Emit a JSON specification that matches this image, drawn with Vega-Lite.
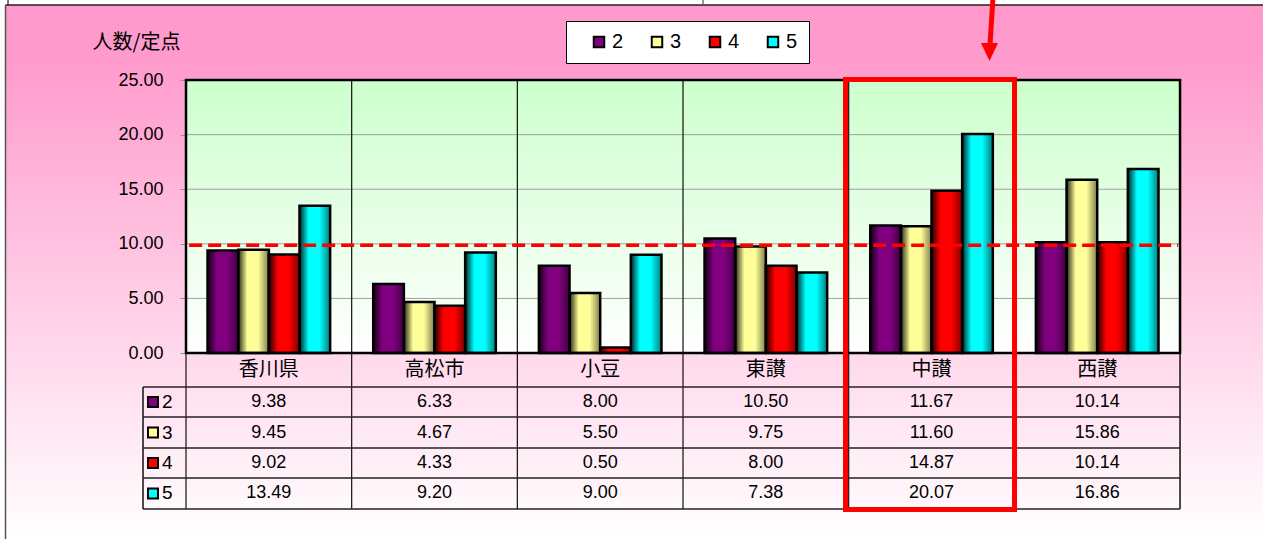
{
 "$schema": "https://vega.github.io/schema/vega-lite/v6.json",
 "width": 1263,
 "height": 539,
 "autosize": {"type": "none"},
 "padding": 0,
 "background": "white",
 "config": {
  "view": {"stroke": null, "fill": {"gradient": "linear", "x1": 0, "y1": 0, "x2": 0, "y2": 1, "stops": [{"offset": 0, "color": "#FF99CC"}, {"offset": 0.1, "color": "#FF9ACC"}, {"offset": 1, "color": "#FFFFFF"}]}},
  "font": "Liberation Sans"
 },
 "data": {"values": [
  {"region": "香川県", "series": "2", "value": 9.38},
  {"region": "香川県", "series": "3", "value": 9.45},
  {"region": "香川県", "series": "4", "value": 9.02},
  {"region": "香川県", "series": "5", "value": 13.49},
  {"region": "高松市", "series": "2", "value": 6.33},
  {"region": "高松市", "series": "3", "value": 4.67},
  {"region": "高松市", "series": "4", "value": 4.33},
  {"region": "高松市", "series": "5", "value": 9.20},
  {"region": "小豆", "series": "2", "value": 8.00},
  {"region": "小豆", "series": "3", "value": 5.50},
  {"region": "小豆", "series": "4", "value": 0.50},
  {"region": "小豆", "series": "5", "value": 9.00},
  {"region": "東讃", "series": "2", "value": 10.50},
  {"region": "東讃", "series": "3", "value": 9.75},
  {"region": "東讃", "series": "4", "value": 8.00},
  {"region": "東讃", "series": "5", "value": 7.38},
  {"region": "中讃", "series": "2", "value": 11.67},
  {"region": "中讃", "series": "3", "value": 11.60},
  {"region": "中讃", "series": "4", "value": 14.87},
  {"region": "中讃", "series": "5", "value": 20.07},
  {"region": "西讃", "series": "2", "value": 10.14},
  {"region": "西讃", "series": "3", "value": 15.86},
  {"region": "西讃", "series": "4", "value": 10.14},
  {"region": "西讃", "series": "5", "value": 16.86}
 ]},
 "layer": [
  {"data": {"values": [{}]}, "mark": {"type": "rect", "fill": "white"},
   "encoding": {"x": {"datum": "香川県", "type": "nominal", "bandPosition": -2.5, "axis": null}, "x2": {"datum": "西讃", "bandPosition": 2.5},
    "y": {"datum": 31.87, "type": "quantitative"}, "y2": {"datum": 34}}},
  {"data": {"values": [{}]}, "mark": {"type": "rect", "fill": "white"},
   "encoding": {"x": {"datum": "香川県", "type": "nominal", "bandPosition": -2.5, "axis": null}, "x2": {"datum": "香川県", "bandPosition": -1.648},
    "y": {"datum": 34, "type": "quantitative"}, "y2": {"datum": -19}}},
  {"data": {"values": [{}]}, "mark": {"type": "rule", "color": "#222222", "strokeWidth": 1.5},
   "encoding": {"x": {"datum": "香川県", "type": "nominal", "bandPosition": -1.648, "axis": null}, "x2": {"datum": "西讃", "bandPosition": 2.5},
    "y": {"datum": 31.87, "type": "quantitative"}}},
  {"data": {"values": [{}]}, "mark": {"type": "rule", "color": "#555555", "strokeWidth": 1.5},
   "encoding": {"x": {"datum": "香川県", "type": "nominal", "bandPosition": -1.648, "axis": null},
    "y": {"datum": 31.87, "type": "quantitative"}, "y2": {"datum": -19}}},
  {"data": {"values": [{}]}, "mark": {"type": "rule", "color": "#222222", "strokeWidth": 1.2},
   "encoding": {"x": {"datum": "香川県", "type": "nominal", "bandPosition": -1.6276, "axis": null},
    "y": {"datum": 31.87, "type": "quantitative"}, "y2": {"datum": 34}}},
  {"data": {"values": [{}]}, "mark": {"type": "rule", "color": "#555555", "strokeWidth": 1.2},
   "encoding": {"x": {"datum": "東讃", "type": "nominal", "bandPosition": -0.0126, "axis": null},
    "y": {"datum": 31.87, "type": "quantitative"}, "y2": {"datum": 34}}},
  {"data": {"values": [{}]},
   "mark": {"type": "rect", "fill": {"gradient": "linear", "x1": 0, "y1": 0, "x2": 0, "y2": 1, "stops": [{"offset": 0, "color": "#CCFFCC"}, {"offset": 1, "color": "#FFFFFF"}]}},
   "encoding": {"x": {"datum": "香川県", "type": "nominal", "bandPosition": -0.1757, "axis": null}, "x2": {"datum": "西讃", "bandPosition": 1.1757},
    "y": {"datum": 25, "type": "quantitative"}, "y2": {"datum": 0}}},
  {"data": {"values": [{}]}, "mark": {"type": "rule", "color": "#A0A0A0", "strokeWidth": 1},
   "encoding": {"x": {"datum": "香川県", "type": "nominal", "bandPosition": -0.1757, "axis": null}, "x2": {"datum": "西讃", "bandPosition": 1.1757}, "y": {"datum": 5, "type": "quantitative"}}},
  {"data": {"values": [{}]}, "mark": {"type": "rule", "color": "#A0A0A0", "strokeWidth": 1},
   "encoding": {"x": {"datum": "香川県", "type": "nominal", "bandPosition": -0.1757, "axis": null}, "x2": {"datum": "西讃", "bandPosition": 1.1757}, "y": {"datum": 10, "type": "quantitative"}}},
  {"data": {"values": [{}]}, "mark": {"type": "rule", "color": "#A0A0A0", "strokeWidth": 1},
   "encoding": {"x": {"datum": "香川県", "type": "nominal", "bandPosition": -0.1757, "axis": null}, "x2": {"datum": "西讃", "bandPosition": 1.1757}, "y": {"datum": 15, "type": "quantitative"}}},
  {"data": {"values": [{}]}, "mark": {"type": "rule", "color": "#A0A0A0", "strokeWidth": 1},
   "encoding": {"x": {"datum": "香川県", "type": "nominal", "bandPosition": -0.1757, "axis": null}, "x2": {"datum": "西讃", "bandPosition": 1.1757}, "y": {"datum": 20, "type": "quantitative"}}},
  {"transform": [{"filter": "datum.series === '2'"}], "mark": {"type": "rule", "color": "#111111", "strokeWidth": 1.2},
   "encoding": {"x": {"field": "region", "type": "nominal", "bandPosition": -0.1757, "axis": null},
    "y": {"datum": -14.28, "type": "quantitative"}, "y2": {"datum": 25}}},
  {"data": {"values": [{}]}, "mark": {"type": "rule", "color": "#111111", "strokeWidth": 1.5},
   "encoding": {"x": {"datum": "西讃", "type": "nominal", "bandPosition": 1.1757, "axis": null},
    "y": {"datum": -14.28, "type": "quantitative"}, "y2": {"datum": 25}}},
  {"data": {"values": [{}]}, "mark": {"type": "rule", "color": "#111111", "strokeWidth": 1.5},
   "encoding": {"x": {"datum": "香川県", "type": "nominal", "bandPosition": -0.5264, "axis": null},
    "y": {"datum": -14.28, "type": "quantitative"}, "y2": {"datum": -3.11}}},
  {"data": {"values": [{}]}, "mark": {"type": "rule", "color": "#222222", "strokeWidth": 1.5},
   "encoding": {"x": {"datum": "香川県", "type": "nominal", "bandPosition": -0.5264, "axis": null}, "x2": {"datum": "西讃", "bandPosition": 1.1757}, "y": {"datum": -3.11, "type": "quantitative"}}},
  {"data": {"values": [{}]}, "mark": {"type": "rule", "color": "#222222", "strokeWidth": 1.5},
   "encoding": {"x": {"datum": "香川県", "type": "nominal", "bandPosition": -0.5264, "axis": null}, "x2": {"datum": "西讃", "bandPosition": 1.1757}, "y": {"datum": -5.86, "type": "quantitative"}}},
  {"data": {"values": [{}]}, "mark": {"type": "rule", "color": "#222222", "strokeWidth": 1.5},
   "encoding": {"x": {"datum": "香川県", "type": "nominal", "bandPosition": -0.5264, "axis": null}, "x2": {"datum": "西讃", "bandPosition": 1.1757}, "y": {"datum": -8.70, "type": "quantitative"}}},
  {"data": {"values": [{}]}, "mark": {"type": "rule", "color": "#222222", "strokeWidth": 1.5},
   "encoding": {"x": {"datum": "香川県", "type": "nominal", "bandPosition": -0.5264, "axis": null}, "x2": {"datum": "西讃", "bandPosition": 1.1757}, "y": {"datum": -11.44, "type": "quantitative"}}},
  {"data": {"values": [{}]}, "mark": {"type": "rule", "color": "#222222", "strokeWidth": 1.5},
   "encoding": {"x": {"datum": "香川県", "type": "nominal", "bandPosition": -0.5264, "axis": null}, "x2": {"datum": "西讃", "bandPosition": 1.1757}, "y": {"datum": -14.28, "type": "quantitative"}}},
  {"mark": {"type": "bar"},
   "encoding": {
    "x": {"field": "region", "type": "nominal", "scale": {"type": "band", "domain": ["香川県", "高松市", "小豆", "東讃", "中讃", "西讃"], "paddingInner": 0.26, "paddingOuter": 0.9418, "align": 0.6651}, "axis": null},
    "xOffset": {"field": "series", "type": "nominal", "scale": {"domain": ["2", "3", "4", "5"], "paddingInner": 0, "paddingOuter": 0}},
    "y": {"field": "value", "type": "quantitative", "stack": null, "scale": {"domain": [-17.03, 32.33], "nice": false, "zero": false},
     "axis": {"values": [0, 5, 10, 15, 20, 25], "format": ".2f", "offset": -186, "domain": false, "grid": false, "ticks": true, "tickColor": "#909090", "tickSize": 6,
      "labelPadding": 17, "labelFontSize": 18, "labelColor": "black", "labelFont": "Liberation Sans",
      "title": "人数/定点", "titleAngle": 0, "titleX": -50, "titleY": 42, "titleAlign": "center", "titleBaseline": "middle",
      "titleFontSize": 20, "titleFontWeight": "normal", "titleColor": "black", "titleFont": "Noto Sans CJK JP"}},
    "color": {"field": "series", "type": "nominal", "scale": {"domain": ["2", "3", "4", "5"], "range": ["#800080", "#FFFF99", "#FF0000", "#00FFFF"]},
     "legend": {"orient": "none", "legendX": 566, "legendY": 21, "direction": "horizontal", "title": null, "fillColor": "white", "strokeColor": "black",
      "padding": 11, "symbolType": "square", "symbolSize": 110, "symbolStrokeColor": "black", "symbolStrokeWidth": 2, "symbolOpacity": 1,
      "labelFontSize": 20, "labelColor": "black", "labelFont": "Liberation Sans", "labelOffset": 3, "columnPadding": 11, "symbolOffset": 12}}
   }},
  {"mark": {"type": "bar", "stroke": "black", "strokeWidth": 2.5,
    "fill": {"gradient": "linear", "x1": 0, "y1": 0, "x2": 1, "y2": 0, "stops": [{"offset": 0, "color": "rgba(0,0,0,0.85)"}, {"offset": 0.3, "color": "rgba(0,0,0,0)"}, {"offset": 0.65, "color": "rgba(0,0,0,0)"}, {"offset": 1, "color": "rgba(0,0,0,0.5)"}]}},
   "encoding": {
    "x": {"field": "region", "type": "nominal", "axis": null},
    "xOffset": {"field": "series", "type": "nominal"},
    "y": {"field": "value", "type": "quantitative", "stack": null}
   }},
  {"data": {"values": [{}]}, "mark": {"type": "rect", "filled": false, "stroke": "black", "strokeWidth": 2.5},
   "encoding": {"x": {"datum": "香川県", "type": "nominal", "bandPosition": -0.1757, "axis": null}, "x2": {"datum": "西讃", "bandPosition": 1.1757},
    "y": {"datum": 25, "type": "quantitative"}, "y2": {"datum": 0}}},
  {"data": {"values": [{}]}, "mark": {"type": "rule", "color": "#FF0000", "strokeWidth": 3.5, "strokeDash": [13, 6]},
   "encoding": {"x": {"datum": "香川県", "type": "nominal", "bandPosition": -0.15, "axis": null}, "x2": {"datum": "西讃", "bandPosition": 1.16}, "y": {"datum": 9.88, "type": "quantitative"}}},
  {"transform": [{"filter": "datum.series === '2'"}], "mark": {"type": "text", "fontSize": 20, "font": "Noto Sans CJK JP", "color": "black", "baseline": "middle"},
   "encoding": {"x": {"field": "region", "type": "nominal", "bandPosition": 0.5, "axis": null}, "y": {"datum": -1.55, "type": "quantitative"}, "text": {"field": "region"}}},
  {"transform": [{"filter": "datum.series === '2'"}],
   "encoding": {"y": {"datum": -4.48, "type": "quantitative"}},
   "layer": [
    {"mark": {"type": "text", "fontSize": 18, "color": "black", "baseline": "middle"},
     "encoding": {"x": {"field": "region", "type": "nominal", "bandPosition": 0.5, "axis": null}, "text": {"field": "value", "type": "quantitative", "format": ".2f"}}},
    {"transform": [{"filter": "datum.region === '香川県'"}], "mark": {"type": "square", "size": 100, "stroke": "black", "strokeWidth": 2, "opacity": 1},
     "encoding": {"x": {"datum": "香川県", "type": "nominal", "bandPosition": -0.445, "axis": null},
      "fill": {"field": "series", "type": "nominal", "scale": {"domain": ["2", "3", "4", "5"], "range": ["#800080", "#FFFF99", "#FF0000", "#00FFFF"]}, "legend": null}}},
    {"transform": [{"filter": "datum.region === '香川県'"}], "mark": {"type": "text", "fontSize": 19, "color": "black", "baseline": "middle", "align": "left"},
     "encoding": {"x": {"datum": "香川県", "type": "nominal", "bandPosition": -0.3715, "axis": null}, "text": {"field": "series"}}}
   ]},
  {"transform": [{"filter": "datum.series === '3'"}],
   "encoding": {"y": {"datum": -7.28, "type": "quantitative"}},
   "layer": [
    {"mark": {"type": "text", "fontSize": 18, "color": "black", "baseline": "middle"},
     "encoding": {"x": {"field": "region", "type": "nominal", "bandPosition": 0.5, "axis": null}, "text": {"field": "value", "type": "quantitative", "format": ".2f"}}},
    {"transform": [{"filter": "datum.region === '香川県'"}], "mark": {"type": "square", "size": 100, "stroke": "black", "strokeWidth": 2, "opacity": 1},
     "encoding": {"x": {"datum": "香川県", "type": "nominal", "bandPosition": -0.445, "axis": null},
      "fill": {"field": "series", "type": "nominal", "scale": {"domain": ["2", "3", "4", "5"], "range": ["#800080", "#FFFF99", "#FF0000", "#00FFFF"]}, "legend": null}}},
    {"transform": [{"filter": "datum.region === '香川県'"}], "mark": {"type": "text", "fontSize": 19, "color": "black", "baseline": "middle", "align": "left"},
     "encoding": {"x": {"datum": "香川県", "type": "nominal", "bandPosition": -0.3715, "axis": null}, "text": {"field": "series"}}}
   ]},
  {"transform": [{"filter": "datum.series === '4'"}],
   "encoding": {"y": {"datum": -10.07, "type": "quantitative"}},
   "layer": [
    {"mark": {"type": "text", "fontSize": 18, "color": "black", "baseline": "middle"},
     "encoding": {"x": {"field": "region", "type": "nominal", "bandPosition": 0.5, "axis": null}, "text": {"field": "value", "type": "quantitative", "format": ".2f"}}},
    {"transform": [{"filter": "datum.region === '香川県'"}], "mark": {"type": "square", "size": 100, "stroke": "black", "strokeWidth": 2, "opacity": 1},
     "encoding": {"x": {"datum": "香川県", "type": "nominal", "bandPosition": -0.445, "axis": null},
      "fill": {"field": "series", "type": "nominal", "scale": {"domain": ["2", "3", "4", "5"], "range": ["#800080", "#FFFF99", "#FF0000", "#00FFFF"]}, "legend": null}}},
    {"transform": [{"filter": "datum.region === '香川県'"}], "mark": {"type": "text", "fontSize": 19, "color": "black", "baseline": "middle", "align": "left"},
     "encoding": {"x": {"datum": "香川県", "type": "nominal", "bandPosition": -0.3715, "axis": null}, "text": {"field": "series"}}}
   ]},
  {"transform": [{"filter": "datum.series === '5'"}],
   "encoding": {"y": {"datum": -12.86, "type": "quantitative"}},
   "layer": [
    {"mark": {"type": "text", "fontSize": 18, "color": "black", "baseline": "middle"},
     "encoding": {"x": {"field": "region", "type": "nominal", "bandPosition": 0.5, "axis": null}, "text": {"field": "value", "type": "quantitative", "format": ".2f"}}},
    {"transform": [{"filter": "datum.region === '香川県'"}], "mark": {"type": "square", "size": 100, "stroke": "black", "strokeWidth": 2, "opacity": 1},
     "encoding": {"x": {"datum": "香川県", "type": "nominal", "bandPosition": -0.445, "axis": null},
      "fill": {"field": "series", "type": "nominal", "scale": {"domain": ["2", "3", "4", "5"], "range": ["#800080", "#FFFF99", "#FF0000", "#00FFFF"]}, "legend": null}}},
    {"transform": [{"filter": "datum.region === '香川県'"}], "mark": {"type": "text", "fontSize": 19, "color": "black", "baseline": "middle", "align": "left"},
     "encoding": {"x": {"datum": "香川県", "type": "nominal", "bandPosition": -0.3715, "axis": null}, "text": {"field": "series"}}}
   ]},
  {"data": {"values": [{}]}, "mark": {"type": "rect", "filled": false, "stroke": "#FF0000", "strokeWidth": 5},
   "encoding": {"x": {"datum": "中讃", "type": "nominal", "bandPosition": -0.2015, "axis": null}, "x2": {"datum": "中讃", "bandPosition": 1.177},
    "y": {"datum": 25.05, "type": "quantitative"}, "y2": {"datum": -14.33}}},
  {"data": {"values": [{}]}, "mark": {"type": "rule", "color": "#FF0000", "strokeWidth": 5},
   "encoding": {"x": {"datum": "中讃", "type": "nominal", "bandPosition": 1.0016, "axis": null}, "x2": {"datum": "中讃", "bandPosition": 0.9772},
    "y": {"datum": 32.6, "type": "quantitative"}, "y2": {"datum": 28.21}}},
  {"data": {"values": [{}]}, "mark": {"type": "point", "shape": "M-0.944,-1L0.944,-1L0,1Z", "size": 324, "filled": true, "color": "#FF0000", "opacity": 1},
   "encoding": {"x": {"datum": "中讃", "type": "nominal", "bandPosition": 0.973, "axis": null}, "y": {"datum": 27.57, "type": "quantitative"}}}
 ]
}
